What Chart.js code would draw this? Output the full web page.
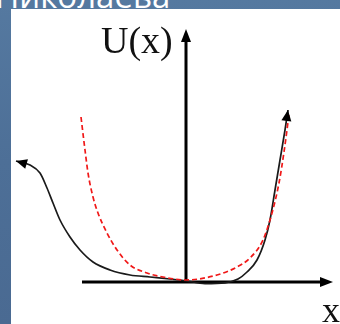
<!DOCTYPE html>
<html lang="ru">
<head>
  <meta charset="UTF-8" />
  <title>U(x)</title>
  <script src="https://cdn.jsdelivr.net/npm/chart.js"></script>
  <style>
    html, body { margin: 0; padding: 0; }
    body {
      width: 340px; height: 324px; overflow: hidden; position: relative;
      background: linear-gradient(180deg, #5579a0 0%, #4d6f97 50%, #4a6a92 100%);
      font-family: "Open Sans", "DejaVu Sans", sans-serif;
    }
    .title {
      position: absolute; left: -5px; top: -27px;
      color: #fff; font-size: 33px; white-space: nowrap;
    }
    .panel {
      position: absolute; left: 11px; top: 9px; width: 329px; height: 315px;
      background: #fff;
    }
    .panel canvas { position: absolute; left: 0; top: 0; }
    .lbl {
      position: absolute; font-family: "Liberation Serif", "DejaVu Serif", serif;
      color: #111; line-height: 1; white-space: nowrap;
    }
    #lblU { left: 90px; top: 12px; font-size: 38px; }
    #lblX { left: 311px; top: 283px; font-size: 36px; }
  </style>
</head>
<body>
  <div class="title">Николаева</div>
  <div class="panel">
    <canvas id="potChart" width="329" height="315"></canvas>
    <div class="lbl" id="lblU">U(x)</div>
    <div class="lbl" id="lblX">x</div>
  </div>

  <script>
    // real potential (solid) and its harmonic-like approximation (dashed)
    const potX = [-4.25, -3.9, -3.65, -3.475, -3.325, -3.15, -2.9, -2.65, -2.325, -1.9, -1.4, -0.9, -0.4, 0, 0.475, 0.975, 1.3, 1.525, 1.775, 1.975, 2.1, 2.225, 2.35, 2.475, 2.55];
    const potU = [3.025, 2.925, 2.725, 2.35, 1.975, 1.55, 1.125, 0.8, 0.5, 0.3, 0.175, 0.125, 0.075, 0.03, -0.04, -0.02, 0.075, 0.25, 0.55, 1.05, 1.55, 2.3, 3.05, 3.8, 4.3];

    const approxX = [-2.625, -2.525, -2.45, -2.325, -2.2, -1.975, -1.725, -1.4, -0.975, -0.575, 0, 0.775, 1.275, 1.6, 1.925, 2.15, 2.325, 2.45, 2.55, 2.575];
    const approxU = [4.125, 3.3, 2.725, 2.125, 1.725, 1.225, 0.8, 0.425, 0.225, 0.125, 0.05, 0.175, 0.375, 0.6, 1.05, 1.725, 2.475, 3.25, 4.0, 4.2];

    // axis extents in data units
    const axisXFrom = -2.6, axisXTo = 3.675;
    const axisUTo = 6.325;

    const toPoints = (xs, ys) => xs.map((x, i) => ({ x: x, y: ys[i] }));

    function arrowHead(ctx, tipX, tipY, fromX, fromY, len, half) {
      const a = Math.atan2(tipY - fromY, tipX - fromX);
      ctx.save();
      ctx.translate(tipX, tipY);
      ctx.rotate(a);
      ctx.beginPath();
      ctx.moveTo(0, 0);
      ctx.lineTo(-len, -half);
      ctx.lineTo(-len, half);
      ctx.closePath();
      ctx.fill();
      ctx.restore();
    }

    const axesPlugin = {
      id: 'axesArrows',
      beforeDatasetsDraw(chart) {
        const { ctx, scales: { x, y } } = chart;
        const x0 = x.getPixelForValue(0), y0 = y.getPixelForValue(0);
        const xl = x.getPixelForValue(axisXFrom), xr = x.getPixelForValue(axisXTo);
        const yt = y.getPixelForValue(axisUTo);
        ctx.save();
        ctx.strokeStyle = '#000';
        ctx.fillStyle = '#000';
        ctx.lineWidth = 3;
        ctx.beginPath();
        ctx.moveTo(xl, y0);
        ctx.lineTo(xr - 8, y0);
        ctx.moveTo(x0, y0);
        ctx.lineTo(x0, yt + 8);
        ctx.stroke();
        arrowHead(ctx, xr, y0, xl, y0, 13, 5);
        arrowHead(ctx, x0, yt, x0, y0, 13, 5);
        ctx.restore();
      },
      afterDatasetsDraw(chart) {
        const { ctx } = chart;
        const pts = chart.getDatasetMeta(0).data;
        const n = pts.length;
        ctx.save();
        ctx.fillStyle = '#000';
        arrowHead(ctx, pts[0].x, pts[0].y, pts[1].x, pts[1].y, 11, 5);
        arrowHead(ctx, pts[n - 1].x, pts[n - 1].y, pts[n - 2].x, pts[n - 2].y, 11, 5);
        ctx.restore();
      }
    };

    new Chart(document.getElementById('potChart'), {
      type: 'scatter',
      data: {
        datasets: [
          {
            label: 'U(x)',
            data: toPoints(potX, potU),
            showLine: true,
            borderColor: '#1a1a1a',
            borderWidth: 1.7,
            pointRadius: 0,
            cubicInterpolationMode: 'monotone',
            order: 2
          },
          {
            label: 'approx',
            data: toPoints(approxX, approxU),
            showLine: true,
            borderColor: '#f01818',
            borderWidth: 1.7,
            borderDash: [5, 3],
            pointRadius: 0,
            cubicInterpolationMode: 'monotone',
            order: 1
          }
        ]
      },
      options: {
        responsive: false,
        animation: false,
        layout: { padding: 0 },
        plugins: { legend: { display: false }, tooltip: { enabled: false } },
        scales: {
          x: { type: 'linear', min: -4.375, max: 3.85, display: false },
          y: { type: 'linear', min: -1.05, max: 6.825, display: false }
        }
      },
      plugins: [axesPlugin]
    });
  </script>
</body>
</html>
